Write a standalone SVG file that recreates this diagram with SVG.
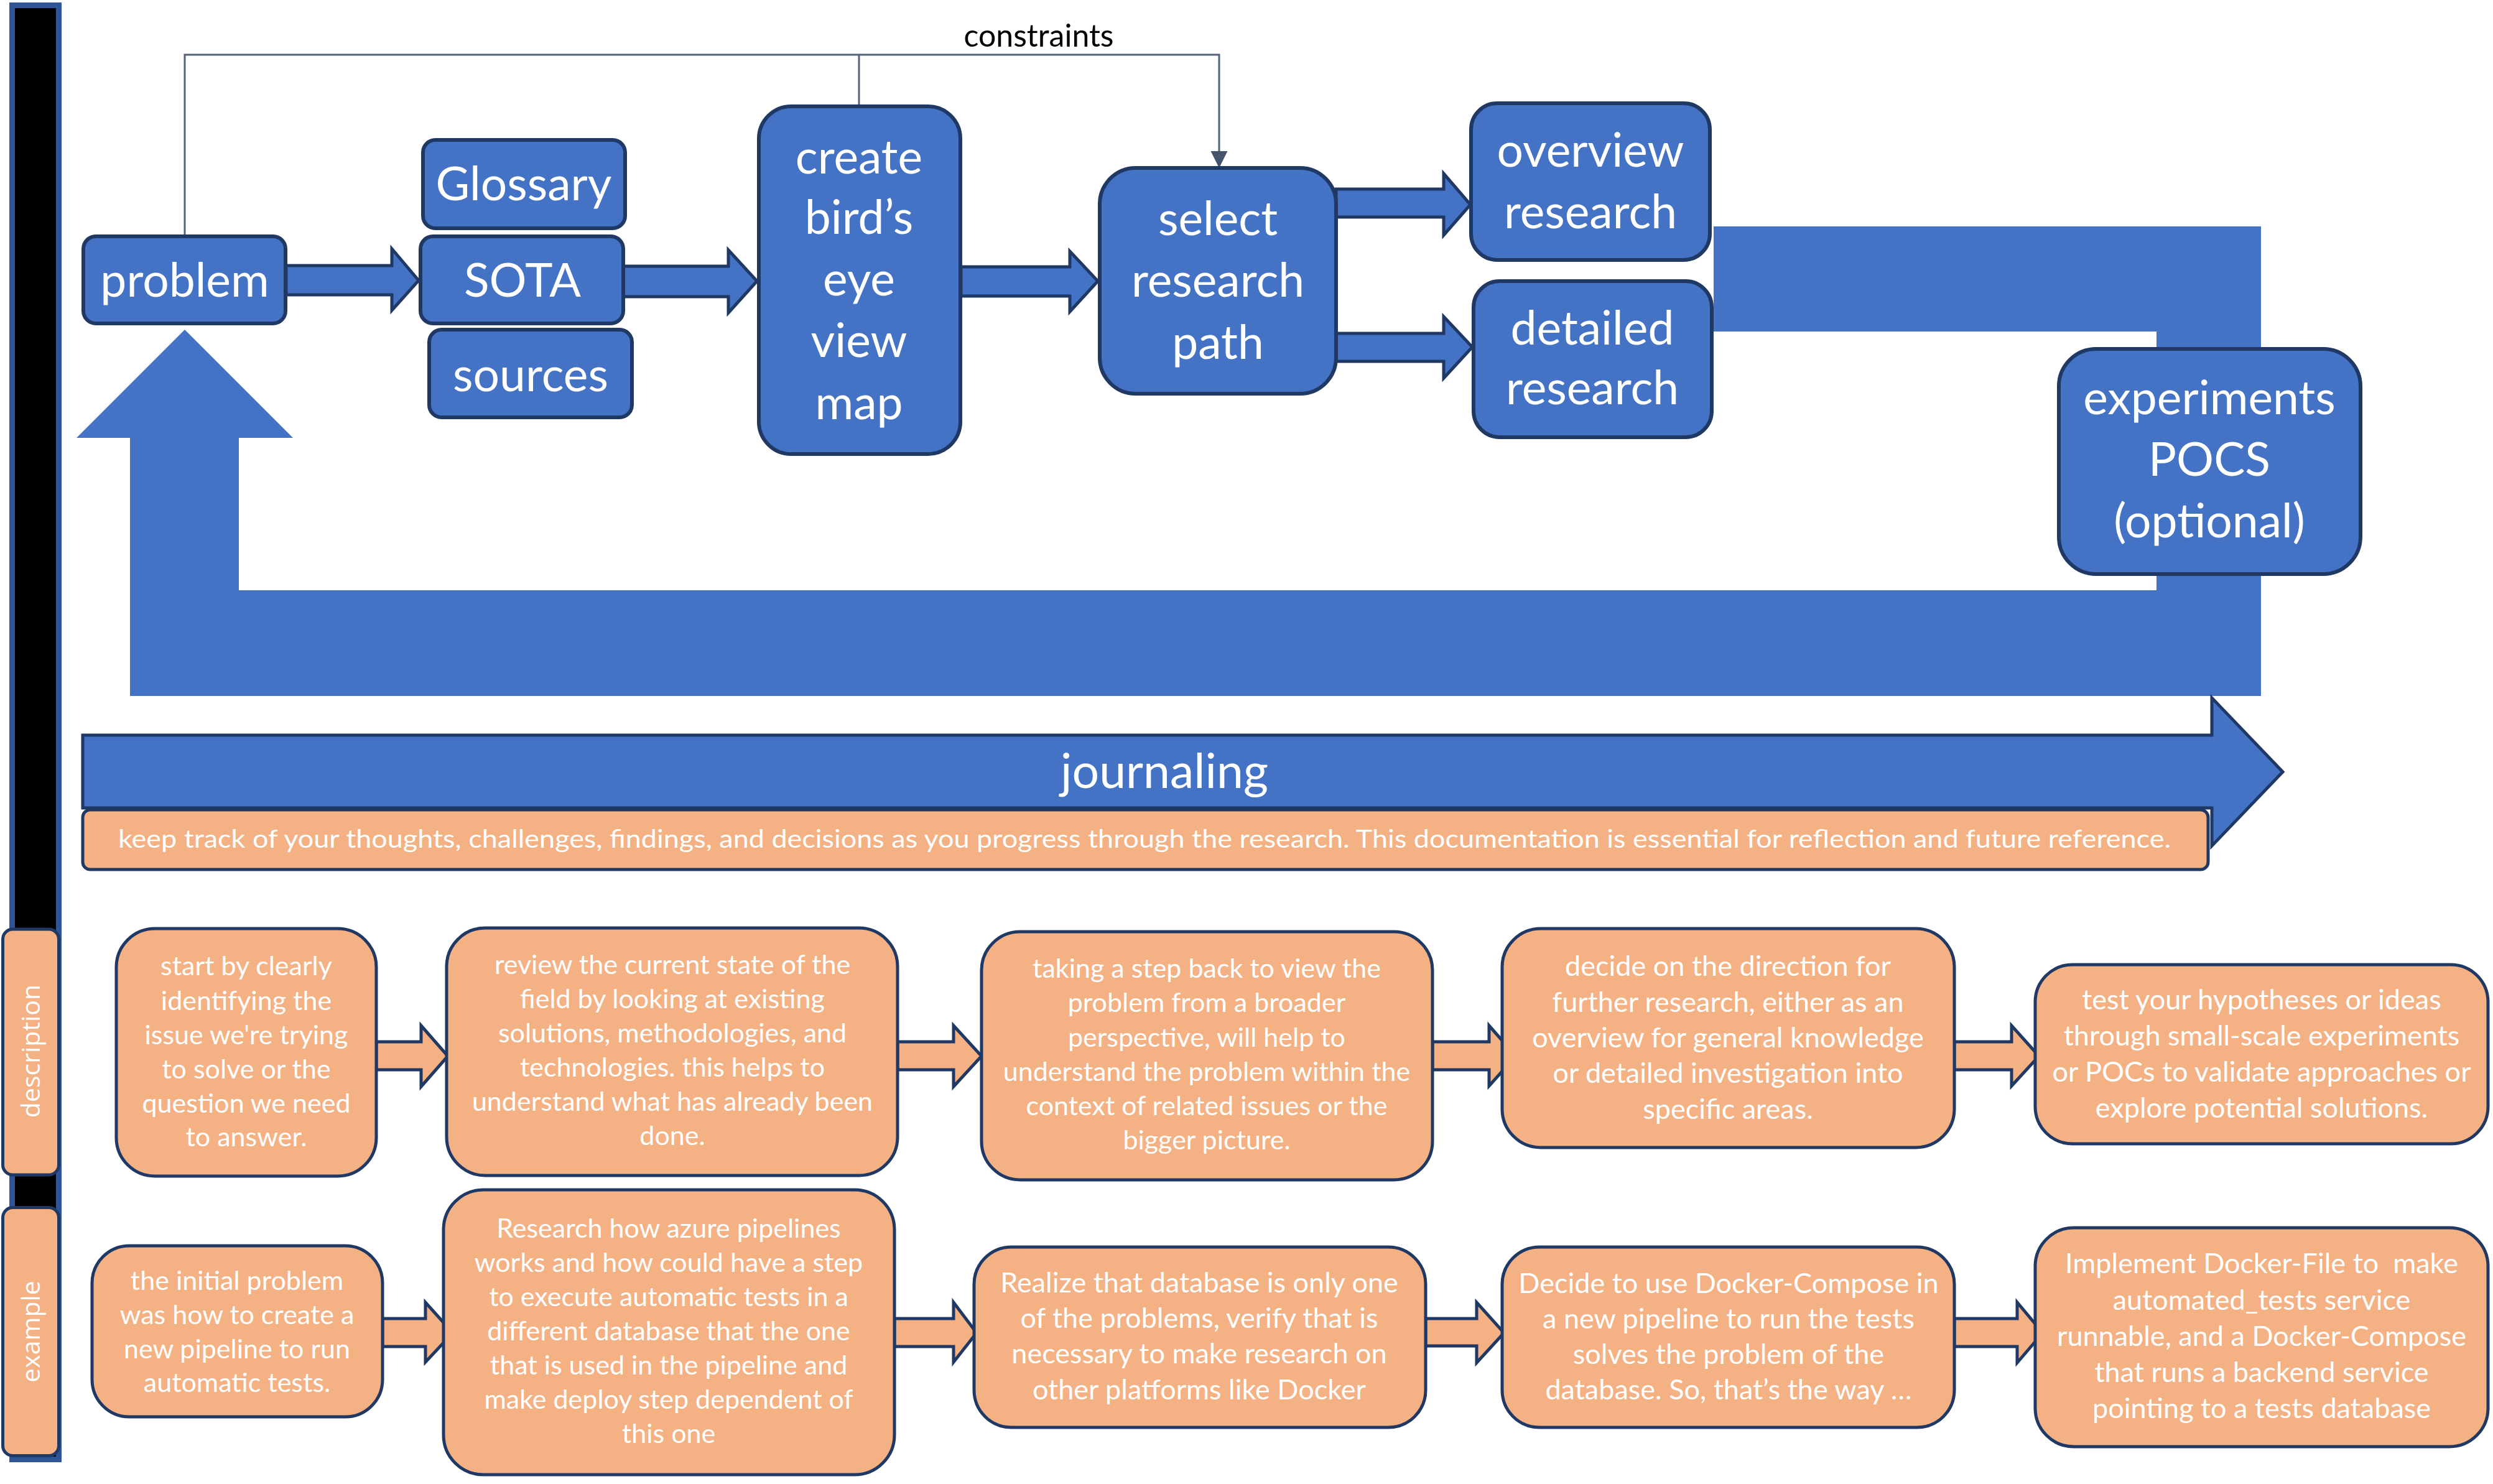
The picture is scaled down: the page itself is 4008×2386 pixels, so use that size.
<svg xmlns="http://www.w3.org/2000/svg" width="4008" height="2386" viewBox="0 0 4008 2386">
<style>
.nb{fill:#4472C4;stroke:#1F3864;stroke-width:6}
.no{fill:#F4B183;stroke:#1F3864;stroke-width:5}
.ab{fill:#4472C4;stroke:#1F3864;stroke-width:5;stroke-linejoin:miter}
.ao{fill:#F4B183;stroke:#1F3864;stroke-width:5;stroke-linejoin:miter}
.tw{fill:#FFFFFF;font-family:Lato,"Liberation Sans",sans-serif;text-anchor:middle}
.big{font-size:75px}
.s43{font-size:43px}
.s45{font-size:45px}
.lbl{fill:#FFFFFF;font-family:"Open Sans","DejaVu Sans",sans-serif;font-size:41px;text-anchor:middle}
.cl{fill:none;stroke:#536379;stroke-width:3}
</style>
<defs>
<marker id="ah" markerUnits="userSpaceOnUse" markerWidth="28" markerHeight="28" refX="27" refY="13.5" orient="auto">
<path d="M0,0 L27,13.5 L0,27 Z" fill="#44546A"/>
</marker>
</defs>
<rect width="4008" height="2386" fill="#FFFFFF"/>

<g id="side-bar">
<rect x="19.5" y="8.5" width="75" height="2338" fill="#000000" stroke="#2F5597" stroke-width="9"/>
</g>
<g id="n-desc-label">
<rect class="no" x="4.5" y="1494" width="90" height="395" rx="16"/>
<text class="lbl" transform="translate(64,1690) rotate(-90)">description</text>
</g>
<g id="n-ex-label">
<rect class="no" x="4.5" y="1941.5" width="90" height="399" rx="16"/>
<text class="lbl" transform="translate(64,2141) rotate(-90)">example</text>
</g>

<g id="connectors">
<path id="loop" d="M2755,364 H3635 V1119 H209 V704 H123 L297,530 L471,704 H384 V949 H3467 V533 H2755 Z" fill="#4472C4"/>
<path class="cl" d="M297,380 V88 H1381 V171"/>
<path class="cl" d="M1381,88 H1960 V270" marker-end="url(#ah)"/>
<path class="ab" d="M460,427 H630 V400 L673,451 L630,499 V474 H460 Z"/>
<path class="ab" d="M1002,428 H1171 V402 L1217,452 L1171,503 V477 H1002 Z"/>
<path class="ab" d="M1545,429 H1720 V404 L1765,452 L1720,501 V476 H1545 Z"/>
<path class="ab" d="M2148,304 H2321 V279 L2364,329 L2321,378 V349 H2148 Z"/>
<path class="ab" d="M2148,536 H2321 V509 L2367,558 L2321,608 V581 H2148 Z"/>
<path class="ao" d="M605,1675 H677 V1649 L720,1698 L677,1747 V1720 H605 Z"/>
<path class="ao" d="M1443,1675 H1533 V1649 L1578,1698 L1533,1747 V1720 H1443 Z"/>
<path class="ao" d="M2303,1675 H2394 V1649 L2437,1698 L2394,1746 V1720 H2303 Z"/>
<path class="ao" d="M3142,1675 H3234 V1649 L3278,1698 L3234,1746 V1720 H3142 Z"/>
<path class="ao" d="M615,2120 H684 V2094 L728,2143 L684,2190 V2165 H615 Z"/>
<path class="ao" d="M1438,2120 H1533 V2094 L1570,2143 L1533,2190 V2165 H1438 Z"/>
<path class="ao" d="M2292,2120 H2374 V2094 L2418,2143 L2374,2191 V2164 H2292 Z"/>
<path class="ao" d="M3142,2120 H3243 V2094 L3284,2143 L3243,2191 V2165 H3142 Z"/>
</g>

<text x="1670" y="75" style="fill:#000;font-family:Lato,'Liberation Sans',sans-serif;font-size:50px;text-anchor:middle">constraints</text>

<g id="n-problem">
<rect class="nb" x="134" y="380" width="325" height="140" rx="20"/>
<text class="tw big" x="297" y="477">problem</text>
</g>
<g id="n-glossary">
<rect class="nb" x="680" y="225" width="325" height="142" rx="20"/>
<text class="tw big" x="842" y="322">Glossary</text>
</g>
<g id="n-sota">
<rect class="nb" x="676" y="380" width="326" height="140" rx="20"/>
<text class="tw big" x="840" y="477">SOTA</text>
</g>
<g id="n-sources">
<rect class="nb" x="690" y="530" width="326" height="141" rx="20"/>
<text class="tw big" x="853" y="629">sources</text>
</g>
<g id="n-create">
<rect class="nb" x="1220" y="171" width="324" height="559" rx="52"/>
<text class="tw big"><tspan x="1381" y="279">create</tspan><tspan x="1381" y="376">bird’s</tspan><tspan x="1381" y="475">eye</tspan><tspan x="1381" y="574">view</tspan><tspan x="1381" y="674">map</tspan></text>
</g>
<g id="n-select">
<rect class="nb" x="1768" y="270" width="380" height="363" rx="58"/>
<text class="tw big"><tspan x="1958" y="378">select</tspan><tspan x="1958" y="477">research</tspan><tspan x="1958" y="577">path</tspan></text>
</g>
<g id="n-overview">
<rect class="nb" x="2365" y="166" width="384" height="252" rx="42"/>
<text class="tw big"><tspan x="2557" y="268">overview</tspan><tspan x="2557" y="367">research</tspan></text>
</g>
<g id="n-detailed">
<rect class="nb" x="2369" y="452" width="383" height="251" rx="42"/>
<text class="tw big"><tspan x="2560" y="554">detailed</tspan><tspan x="2560" y="650">research</tspan></text>
</g>
<g id="n-experiments">
<rect class="nb" x="3310" y="561" width="485" height="362" rx="60"/>
<text class="tw big"><tspan x="3552" y="666">experiments</tspan><tspan x="3552" y="765">POCS</tspan><tspan x="3552" y="864">(optional)</tspan></text>
</g>

<g id="n-journaling">
<path d="M133,1182 H3556 V1122 L3670,1241 L3556,1360 V1299 H133 Z" fill="#4472C4" stroke="#1F3864" stroke-width="5"/>
<text class="tw" x="1872" y="1267" style="font-size:77px">journaling</text>
</g>
<g id="n-journal-note">
<rect class="no" x="133" y="1302" width="3417" height="96" rx="12"/>
<text class="tw" x="1840" y="1363" style="font-size:41px" textLength="3300" lengthAdjust="spacingAndGlyphs">keep track of your thoughts, challenges, findings, and decisions as you progress through the research. This documentation is essential for reflection and future reference.</text>
</g>

<g id="d1">
<rect class="no" x="187" y="1493" width="418" height="398" rx="62"/>
<text class="tw s43"><tspan x="396" y="1568">start by clearly</tspan><tspan x="396" y="1624">identifying the</tspan><tspan x="396" y="1679">issue we're trying</tspan><tspan x="396" y="1734">to solve or the</tspan><tspan x="396" y="1789">question we need</tspan><tspan x="396" y="1843">to answer.</tspan></text>
</g>
<g id="d2">
<rect class="no" x="718" y="1492" width="725" height="398" rx="62"/>
<text class="tw s43"><tspan x="1081" y="1566">review the current state of the</tspan><tspan x="1081" y="1621">field by looking at existing</tspan><tspan x="1081" y="1676">solutions, methodologies, and</tspan><tspan x="1081" y="1731">technologies. this helps to</tspan><tspan x="1081" y="1786">understand what has already been</tspan><tspan x="1081" y="1841">done.</tspan></text>
</g>
<g id="d3">
<rect class="no" x="1578" y="1498" width="725" height="399" rx="62"/>
<text class="tw s43"><tspan x="1940" y="1572">taking a step back to view the</tspan><tspan x="1940" y="1627">problem from a broader</tspan><tspan x="1940" y="1683">perspective, will help to</tspan><tspan x="1940" y="1738">understand the problem within the</tspan><tspan x="1940" y="1793">context of related issues or the</tspan><tspan x="1940" y="1848">bigger picture.</tspan></text>
</g>
<g id="d4">
<rect class="no" x="2415" y="1493" width="727" height="352" rx="62"/>
<text class="tw s45"><tspan x="2778" y="1569">decide on the direction for</tspan><tspan x="2778" y="1627">further research, either as an</tspan><tspan x="2778" y="1684">overview for general knowledge</tspan><tspan x="2778" y="1741">or detailed investigation into</tspan><tspan x="2778" y="1799">specific areas.</tspan></text>
</g>
<g id="d5">
<rect class="no" x="3272" y="1551" width="728" height="288" rx="60"/>
<text class="tw s45"><tspan x="3636" y="1623">test your hypotheses or ideas</tspan><tspan x="3636" y="1681">through small-scale experiments</tspan><tspan x="3636" y="1739">or POCs to validate approaches or</tspan><tspan x="3636" y="1797">explore potential solutions.</tspan></text>
</g>

<g id="e1">
<rect class="no" x="148" y="2003" width="467" height="275" rx="60"/>
<text class="tw s43"><tspan x="381" y="2074">the initial problem</tspan><tspan x="381" y="2129">was how to create a</tspan><tspan x="381" y="2184">new pipeline to run</tspan><tspan x="381" y="2238">automatic tests.</tspan></text>
</g>
<g id="e2">
<rect class="no" x="713" y="1913" width="725" height="458" rx="64"/>
<text class="tw s43"><tspan x="1075" y="1990">Research how azure pipelines</tspan><tspan x="1075" y="2045">works and how could have a step</tspan><tspan x="1075" y="2100">to execute automatic tests in a</tspan><tspan x="1075" y="2155">different database that the one</tspan><tspan x="1075" y="2210">that is used in the pipeline and</tspan><tspan x="1075" y="2265">make deploy step dependent of</tspan><tspan x="1075" y="2320">this one</tspan></text>
</g>
<g id="e3">
<rect class="no" x="1566" y="2005" width="726" height="290" rx="60"/>
<text class="tw s45"><tspan x="1928" y="2078">Realize that database is only one</tspan><tspan x="1928" y="2135">of the problems, verify that is</tspan><tspan x="1928" y="2192">necessary to make research on</tspan><tspan x="1928" y="2250">other platforms like Docker</tspan></text>
</g>
<g id="e4">
<rect class="no" x="2415" y="2005" width="727" height="290" rx="60"/>
<text class="tw s45"><tspan x="2779" y="2079">Decide to use Docker-Compose in</tspan><tspan x="2779" y="2136">a new pipeline to run the tests</tspan><tspan x="2779" y="2193">solves the problem of the</tspan><tspan x="2779" y="2250">database. So, that’s the way …</tspan></text>
</g>
<g id="e5">
<rect class="no" x="3272" y="1974" width="728" height="352" rx="62"/>
<text class="tw s45" xml:space="preserve"><tspan x="3636" y="2047">Implement Docker-File to  make</tspan><tspan x="3636" y="2106">automated_tests service</tspan><tspan x="3636" y="2164">runnable, and a Docker-Compose</tspan><tspan x="3636" y="2222">that runs a backend service</tspan><tspan x="3636" y="2280">pointing to a tests database</tspan></text>
</g>
</svg>
